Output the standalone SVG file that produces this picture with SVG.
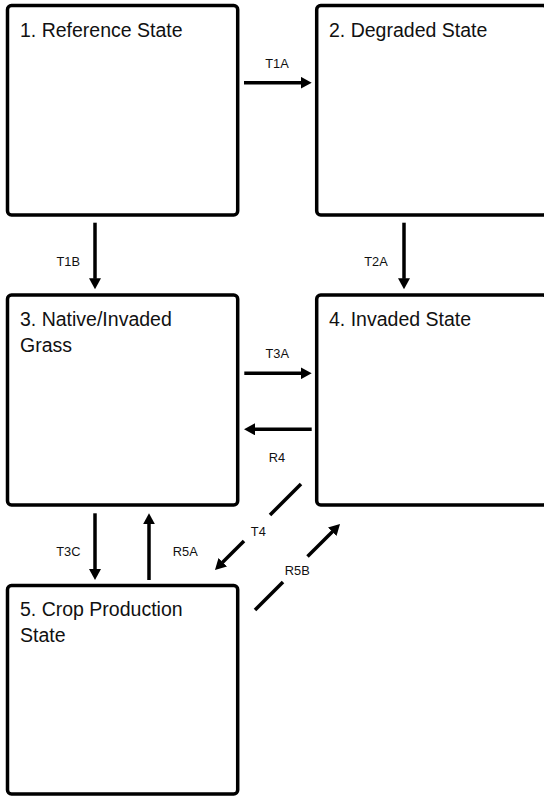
<svg xmlns="http://www.w3.org/2000/svg" width="544" height="796" viewBox="0 0 544 796">
<style>
.box{fill:#fff;stroke:#000;stroke-width:3.5}
.title{font-family:"Liberation Sans",Arial,sans-serif;font-size:19.5px;fill:#111}
.lbl{font-family:"Liberation Sans",Arial,sans-serif;font-size:12.8px;fill:#111;text-anchor:middle}
.con{stroke:#000;stroke-width:3.5;fill:none}
.arr{marker-end:url(#ah)}
</style>
<defs>
<marker id="ah" markerUnits="userSpaceOnUse" markerWidth="12" markerHeight="12" refX="0.5" refY="6" orient="auto">
<path d="M0,0 L11,6 L0,12 z" fill="#000"/>
</marker>
</defs>
<rect width="544" height="796" fill="#fff"/>
<g id="node1">
<rect class="box" x="7.5" y="5.5" width="230.2" height="209.5" rx="4"/>
<text class="title" x="20" y="36.5">1. Reference State</text>
</g>
<g id="node2">
<rect class="box" x="316.7" y="5.5" width="230.2" height="209.5" rx="4"/>
<text class="title" x="329" y="36.5">2. Degraded State</text>
</g>
<g id="node3">
<rect class="box" x="7.5" y="295" width="230.2" height="210" rx="4"/>
<text class="title" x="20" y="326">3. Native/Invaded</text>
<text class="title" x="20" y="352">Grass</text>
</g>
<g id="node4">
<rect class="box" x="316.7" y="295" width="230.2" height="210" rx="4"/>
<text class="title" x="329" y="326">4. Invaded State</text>
</g>
<g id="node5">
<rect class="box" x="7.5" y="585.5" width="230.2" height="208.5" rx="4"/>
<text class="title" x="20" y="616">5. Crop Production</text>
<text class="title" x="20" y="642">State</text>
</g>
<g id="connectors">
<line class="con arr" x1="244" y1="82.7" x2="301.2" y2="82.7"/>
<text class="lbl" x="277" y="68">T1A</text>
<line class="con arr" x1="95" y1="222.7" x2="95" y2="278.8"/>
<text class="lbl" x="68.3" y="265.5">T1B</text>
<line class="con arr" x1="404" y1="222.7" x2="404" y2="278.8"/>
<text class="lbl" x="376" y="265.5">T2A</text>
<line class="con arr" x1="244.3" y1="373.3" x2="301.2" y2="373.3"/>
<text class="lbl" x="277.3" y="358">T3A</text>
<line class="con arr" x1="311.7" y1="429.3" x2="254.5" y2="429.3"/>
<text class="lbl" x="277" y="462">R4</text>
<line class="con" x1="301" y1="484" x2="270" y2="515"/>
<line class="con arr" x1="244" y1="541" x2="222.4" y2="562.6"/>
<text class="lbl" x="258.3" y="536">T4</text>
<line class="con" x1="255" y1="610" x2="283" y2="582"/>
<line class="con arr" x1="307.5" y1="556.5" x2="332.6" y2="531.4"/>
<text class="lbl" x="297.3" y="574.5">R5B</text>
<line class="con arr" x1="95" y1="513.3" x2="95" y2="569.5"/>
<text class="lbl" x="68.3" y="555.5">T3C</text>
<line class="con arr" x1="149" y1="580" x2="149" y2="523.8"/>
<text class="lbl" x="185.3" y="555.5">R5A</text>
</g>
</svg>
